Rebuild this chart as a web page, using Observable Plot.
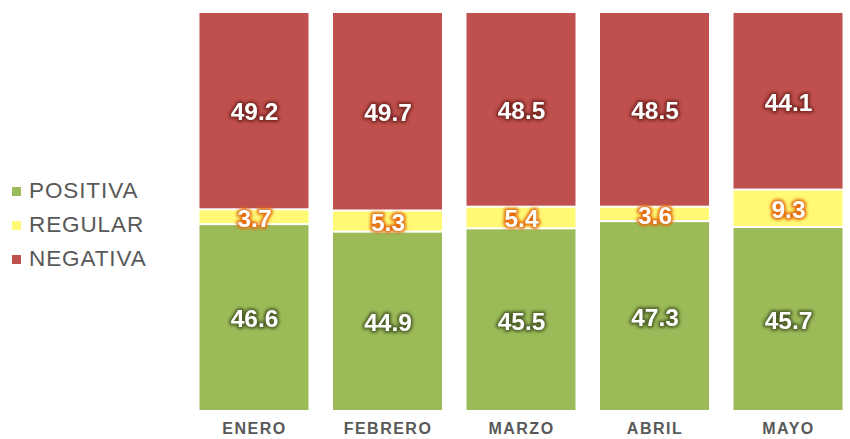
<!DOCTYPE html>
<html><head><meta charset="utf-8">
<script src="https://cdn.jsdelivr.net/npm/d3@7"></script>
<script src="https://cdn.jsdelivr.net/npm/@observablehq/plot@0.6"></script>
<style>
body{margin:0;background:#fff;font-family:"Liberation Sans",Arial,sans-serif;}
#wrap{position:relative;width:850px;height:439px;}
.item{position:absolute;left:12px;height:24px;display:flex;align-items:center;white-space:nowrap;color:#595959;font-size:22.5px;letter-spacing:0.9px;}
.sw{width:9px;height:9px;margin-right:8px;flex:none;}
</style></head><body><div id="wrap"></div>
<script>
const months = ["ENERO","FEBRERO","MARZO","ABRIL","MAYO"];
const series = ["POSITIVA","REGULAR","NEGATIVA"];
const positiva = [46.6,44.9,45.5,47.3,45.7];
const regular = [3.7,5.3,5.4,3.6,9.3];
const negativa = [49.2,49.7,48.5,48.5,44.1];
const colors = ["#9bbb59","#fff975","#c0504d"];
const glows = ["#4f6228","#e46c0a","#7a2624"];

const values = {POSITIVA: positiva, REGULAR: regular, NEGATIVA: negativa};
const data = months.flatMap((m, i) => series.map(s => ({month: m, series: s, value: values[s][i]})));
const st = {x: "month", y: "value", z: "series", offset: "normalize"};

const plot = Plot.plot({
  width: 850, height: 439,
  marginLeft: 192, marginRight: 0, marginTop: 12, marginBottom: 28,
  style: {fontFamily: '"Liberation Sans", Arial, sans-serif', background: "white", overflow: "visible"},
  x: {domain: months, paddingInner: 0.1835, paddingOuter: 0.056, round: false, label: null, tickSize: 0, tickPadding: 11},
  y: {axis: null},
  color: {domain: series, range: colors},
  marks: [
    Plot.barY(data, Plot.stackY({...st, fill: "series", insetTop: 1, insetBottom: 1})),
    Plot.text(data, Plot.stackY({...st, text: d => d.value.toFixed(1), fill: "black", stroke: "black", strokeWidth: 4, fontSize: 24.5, fontWeight: "bold", dy: 1.5})),
    Plot.text(data, Plot.stackY({...st, text: d => d.value.toFixed(1), fill: "white", fontSize: 24.5, fontWeight: "bold", dy: 1.5}))
  ]
});

const svg = d3.select(plot);
const defs = svg.insert("defs", ":first-child");
defs.append("filter").attr("id", "glowf").attr("x", "-20%").attr("y", "-40%").attr("width", "140%").attr("height", "180%")
  .append("feGaussianBlur").attr("stdDeviation", 1.4);
const textGroups = svg.selectAll('g[aria-label="text"]').nodes();
if (textGroups.length >= 2) {
  const g = d3.select(textGroups[0]);
  g.attr("filter", "url(#glowf)");
  g.selectAll("text").each(function(_, i) {
    const c = glows[series.indexOf(data[i].series)];
    d3.select(this).attr("fill", c).attr("stroke", c);
  });
}
// tick labels styling
svg.selectAll('g[aria-label="x-axis tick label"] text, g[aria-label="x-axis"] text')
  .attr("font-size", 16).attr("font-weight", "bold").attr("fill", "#595959").style("letter-spacing", "1.5px");

const wrap = document.getElementById("wrap");
wrap.appendChild(plot);
plot.style.position = "absolute"; plot.style.left = "0"; plot.style.top = "0";

const legendY = [191, 225, 259];
series.forEach((s, i) => {
  const it = document.createElement("div");
  it.className = "item";
  it.style.top = (legendY[i] - 12) + "px";
  const sw = document.createElement("span");
  sw.className = "sw"; sw.style.background = colors[i];
  it.appendChild(sw);
  it.appendChild(document.createTextNode(s));
  wrap.appendChild(it);
});
</script></body></html>
